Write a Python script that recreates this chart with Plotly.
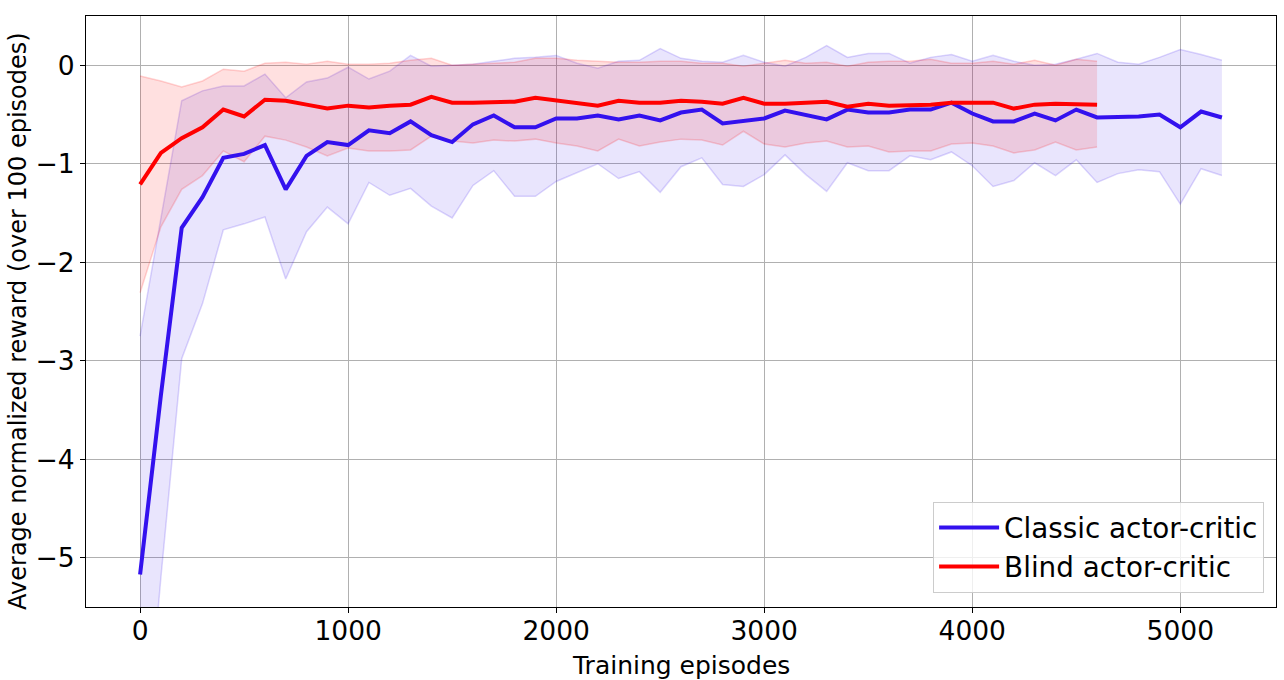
import plotly.graph_objects as go

# episodes (every 100)
ep_classic = list(range(0, 5300, 100))
ep_blind = list(range(0, 4700, 100))

classic_mean = [-5.17, -3.35, -1.65, -1.34, -0.94, -0.90, -0.81, -1.26, -0.92, -0.78,
                -0.81, -0.66, -0.69, -0.57, -0.71, -0.78, -0.60, -0.51, -0.63, -0.63,
                -0.54, -0.54, -0.51, -0.55, -0.51, -0.56, -0.48, -0.45, -0.59, -0.56,
                -0.54, -0.46, -0.51, -0.55, -0.45, -0.48, -0.48, -0.45, -0.45, -0.38,
                -0.49, -0.57, -0.57, -0.49, -0.56, -0.45, -0.53, -0.53, -0.52, -0.50,
                -0.63, -0.47, -0.53]
classic_upper = [-2.75, -1.55, -0.36, -0.26, -0.21, -0.21, -0.09, -0.33, -0.17, -0.13,
                 -0.02, -0.14, -0.06, 0.10, -0.01, 0.00, 0.01, 0.04, 0.07, 0.08,
                 0.10, 0.02, -0.03, 0.04, 0.05, 0.17, 0.07, 0.04, 0.03, 0.10,
                 0.03, -0.01, 0.08, 0.20, 0.08, 0.12, 0.12, 0.02, 0.08, 0.11,
                 0.04, 0.10, 0.04, 0.00, 0.01, 0.06, 0.12, 0.03, 0.01, 0.08,
                 0.16, 0.11, 0.05]
classic_lower = [-7.6, -5.2, -2.98, -2.42, -1.67, -1.61, -1.54, -2.17, -1.69, -1.44,
                 -1.61, -1.19, -1.32, -1.25, -1.43, -1.55, -1.22, -1.07, -1.33, -1.33,
                 -1.18, -1.09, -1.00, -1.15, -1.08, -1.29, -1.03, -0.94, -1.21, -1.23,
                 -1.11, -0.91, -1.11, -1.28, -0.99, -1.07, -1.07, -0.92, -0.96, -0.88,
                 -1.02, -1.23, -1.17, -0.99, -1.12, -0.96, -1.19, -1.10, -1.06, -1.08,
                 -1.41, -1.05, -1.12]

blind_mean = [-1.21, -0.89, -0.74, -0.63, -0.45, -0.52, -0.35, -0.36, -0.40, -0.44,
              -0.41, -0.43, -0.41, -0.40, -0.32, -0.38, -0.38, -0.37, -0.37, -0.33,
              -0.36, -0.38, -0.41, -0.36, -0.38, -0.38, -0.36, -0.37, -0.39, -0.33,
              -0.39, -0.39, -0.38, -0.37, -0.42, -0.39, -0.41, -0.41, -0.40, -0.38,
              -0.38, -0.38, -0.44, -0.40, -0.39, -0.40, -0.40]
blind_upper = [-0.11, -0.16, -0.22, -0.16, -0.04, -0.06, 0.02, 0.03, 0.01, 0.04,
               0.01, 0.01, 0.02, 0.05, 0.07, 0.00, 0.01, 0.02, 0.03, 0.07,
               0.07, 0.05, 0.04, 0.03, 0.03, 0.04, 0.04, 0.02, 0.02, -0.01,
               0.02, 0.05, 0.02, 0.03, -0.01, 0.03, 0.04, 0.04, 0.06, 0.02,
               0.02, 0.04, 0.01, 0.05, 0.00, 0.06, 0.04]
blind_lower = [-2.31, -1.64, -1.26, -1.12, -0.87, -0.98, -0.72, -0.76, -0.83, -0.92,
               -0.84, -0.87, -0.87, -0.86, -0.72, -0.77, -0.79, -0.76, -0.77, -0.75,
               -0.79, -0.82, -0.87, -0.75, -0.82, -0.78, -0.75, -0.76, -0.81, -0.67,
               -0.80, -0.83, -0.79, -0.77, -0.83, -0.82, -0.88, -0.87, -0.87, -0.80,
               -0.79, -0.82, -0.89, -0.86, -0.78, -0.86, -0.83]

blue = "#3311ee"
red = "#ff0000"

fig = go.Figure()

# shaded bands
fig.add_trace(go.Scatter(x=ep_classic, y=classic_upper, mode="lines",
                         line=dict(color="rgba(51,17,238,0.17)", width=1.5),
                         showlegend=False, hoverinfo="skip"))
fig.add_trace(go.Scatter(x=ep_classic, y=classic_lower, mode="lines", fill="tonexty",
                         fillcolor="rgba(51,17,238,0.11)",
                         line=dict(color="rgba(51,17,238,0.17)", width=1.5),
                         showlegend=False, hoverinfo="skip"))
fig.add_trace(go.Scatter(x=ep_blind, y=blind_upper, mode="lines",
                         line=dict(color="rgba(255,0,0,0.17)", width=1.5),
                         showlegend=False, hoverinfo="skip"))
fig.add_trace(go.Scatter(x=ep_blind, y=blind_lower, mode="lines", fill="tonexty",
                         fillcolor="rgba(255,0,0,0.12)",
                         line=dict(color="rgba(255,0,0,0.17)", width=1.5),
                         showlegend=False, hoverinfo="skip"))

# mean lines
fig.add_trace(go.Scatter(x=ep_classic, y=classic_mean, mode="lines",
                         name="Classic actor-critic", line=dict(color=blue, width=4)))
fig.add_trace(go.Scatter(x=ep_blind, y=blind_mean, mode="lines",
                         name="Blind actor-critic", line=dict(color=red, width=4)))

axis_common = dict(showline=True, linecolor="black", linewidth=1, mirror=True,
                   ticks="outside", ticklen=5, tickcolor="black", automargin=False,
                   showgrid=True, gridcolor="#b0b0b0", gridwidth=1, zeroline=False,
                   tickfont=dict(size=26.5, color="black"))

fig.update_xaxes(range=[-260, 5460], tickvals=[0, 1000, 2000, 3000, 4000, 5000],
                 ticklabelstandoff=-5, **axis_common)
fig.update_yaxes(range=[-5.5, 0.5], tickvals=[0, -1, -2, -3, -4, -5],
                 ticktext=["0", "\u22121", "\u22122", "\u22123", "\u22124", "\u22125"],
                 **axis_common)

# axis titles
fig.add_annotation(text="Training episodes", xref="paper", yref="paper",
                   x=0.5, y=0, yanchor="middle", yshift=-58, showarrow=False,
                   font=dict(size=25, color="black"))
fig.add_annotation(text="Average normalized reward (over 100 episodes)",
                   xref="paper", yref="paper", x=0, y=0.484, xanchor="center",
                   xshift=-68, textangle=-90, showarrow=False,
                   font=dict(size=24, color="black"))

fig.update_layout(
    width=1284, height=680,
    margin=dict(l=86, r=8, t=16, b=73),
    plot_bgcolor="white", paper_bgcolor="white",
    font=dict(family="DejaVu Sans", color="black"),
    legend=dict(x=0.99, y=0.024, xanchor="right", yanchor="bottom", traceorder="normal",
                bgcolor="rgba(255,255,255,0.8)", bordercolor="#cccccc", borderwidth=1,
                font=dict(size=27.8, color="black"), itemwidth=60),
)

fig.write_html("out.html", config={"displayModeBar": False},
               post_script="document.body.style.margin='0';")
